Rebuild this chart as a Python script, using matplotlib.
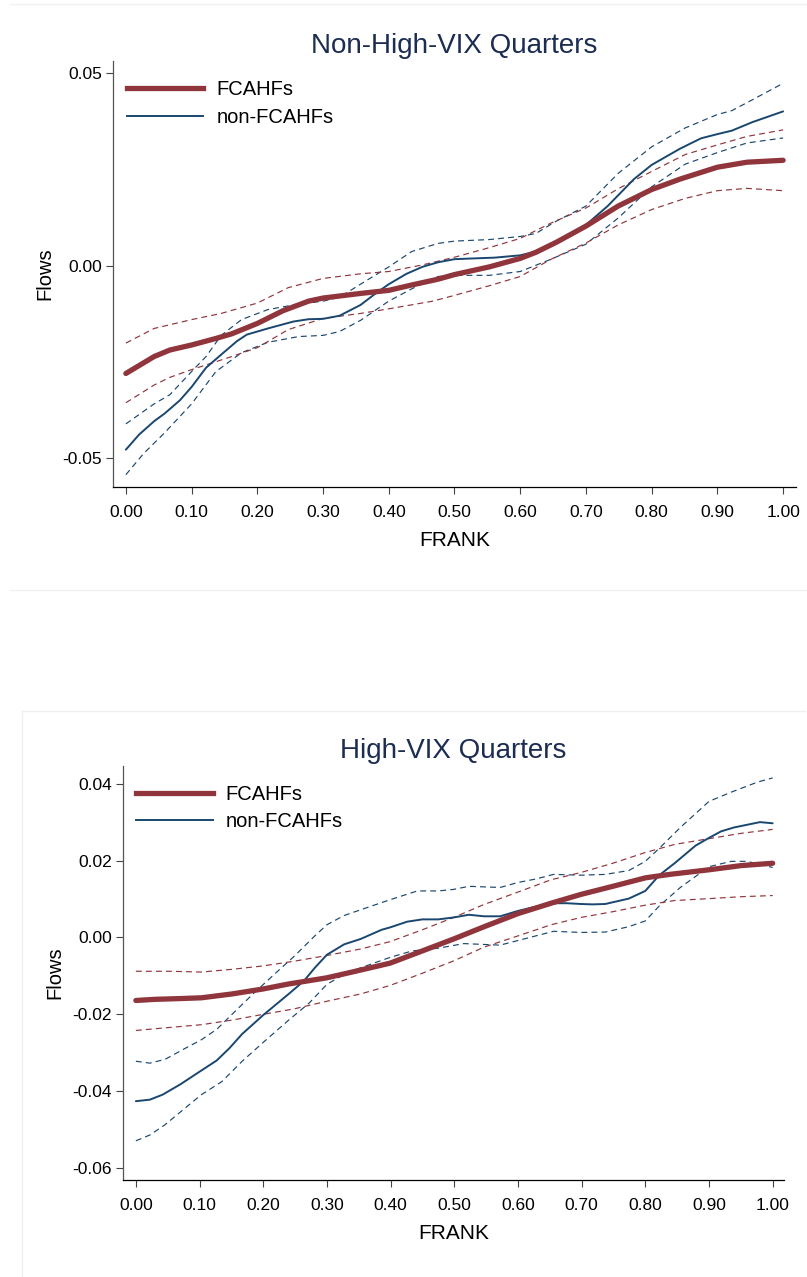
import matplotlib
matplotlib.use("Agg")
import matplotlib.pyplot as plt
from matplotlib.lines import Line2D

# ---------------- data: top panel (Non-High-VIX Quarters) ----------------
top_fc_x = [0, .043, .067, .100, .137, .161, .200, .239, .278, .300, .357, .400, .435, .475,
            .500, .553, .600, .624, .655, .700, .749, .800, .843, .900, .945, 1.0]
top_fc_y = [-.0280, -.0236, -.0219, -.0206, -.0189, -.0177, -.0150, -.0117, -.0092, -.0084,
            -.0072, -.0064, -.0050, -.0035, -.0023, -.0003, .0019, .0035, .0061, .0103,
            .0155, .0198, .0225, .0256, .0269, .0274]

top_fc_hi_x = [0, .043, .100, .145, .200, .247, .300, .357, .400, .451, .500, .553, .600,
               .647, .700, .749, .800, .851, .900, .945, 1.0]
top_fc_hi_y = [-.0201, -.0163, -.0140, -.0124, -.0097, -.0057, -.0033, -.0021, -.0015, .0002,
               .0022, .0047, .0071, .0111, .0150, .0200, .0245, .0289, .0314, .0336, .0353]

top_fc_lo_x = [0, .043, .067, .100, .161, .200, .247, .300, .357, .400, .467, .500, .553,
               .600, .647, .700, .749, .800, .851, .900, .945, 1.0]
top_fc_lo_y = [-.0356, -.0310, -.0290, -.0270, -.0236, -.0213, -.0166, -.0137, -.0124, -.0112,
               -.0092, -.0077, -.0052, -.0028, .0017, .0059, .0106, .0146, .0175, .0195,
               .0201, .0195]

top_nf_x = [0, .020, .043, .059, .082, .100, .122, .145, .169, .184, .216, .255, .278, .300,
            .325, .357, .380, .400, .427, .451, .475, .500, .529, .561, .600, .624, .655,
            .700, .733, .773, .800, .843, .875, .900, .922, .953, 1.0]
top_nf_y = [-.0478, -.0439, -.0404, -.0384, -.0350, -.0315, -.0265, -.0231, -.0196, -.0179,
            -.0163, -.0145, -.0139, -.0138, -.0130, -.0102, -.0072, -.0048, -.0021, -.0003,
            .0009, .0017, .0019, .0021, .0027, .0037, .0061, .0106, .0155, .0225, .0262,
            .0304, .0331, .0342, .0351, .0373, .0401]

top_nf_hi_x = [0, .043, .067, .100, .122, .145, .176, .216, .255, .300, .325, .357, .400,
               .435, .475, .500, .553, .600, .624, .655, .700, .749, .800, .851, .900, .922,
               .953, 1.0]
top_nf_hi_y = [-.0411, -.0359, -.0335, -.0275, -.0236, -.0181, -.0140, -.0114, -.0102, -.0092,
               -.0082, -.0048, -.0003, .0037, .0058, .0064, .0068, .0076, .0084, .0116, .0155,
               .0240, .0309, .0358, .0393, .0403, .0431, .0474]

top_nf_lo_x = [0, .027, .059, .100, .137, .176, .216, .263, .300, .325, .357, .400, .435,
               .475, .500, .553, .600, .647, .700, .749, .800, .851, .900, .945, 1.0]
top_nf_lo_y = [-.0543, -.0488, -.0434, -.0359, -.0275, -.0226, -.0199, -.0184, -.0181, -.0171,
               -.0142, -.0092, -.0060, -.0028, -.0025, -.0025, -.0015, .0017, .0056, .0124,
               .0205, .0264, .0294, .0319, .0332]

# ---------------- data: bottom panel (High-VIX Quarters) ----------------
bot_fc_x = [0, .030, .070, .103, .151, .200, .240, .300, .337, .399, .450, .499, .547, .600,
            .652, .699, .749, .800, .838, .900, .951, 1.0]
bot_fc_y = [-.0164, -.0161, -.0159, -.0157, -.0147, -.0134, -.0121, -.0105, -.0091, -.0067,
            -.0035, -.0004, .0028, .0062, .0089, .0112, .0133, .0155, .0164, .0176, .0187,
            .0193]

bot_fc_hi_x = [0, .054, .103, .151, .200, .248, .300, .353, .399, .450, .499, .547, .600,
               .652, .699, .749, .800, .846, .900, .951, 1.0]
bot_fc_hi_y = [-.0088, -.0088, -.0090, -.0083, -.0074, -.0062, -.0047, -.0030, -.0011, .0020,
               .0052, .0086, .0118, .0150, .0169, .0193, .0221, .0242, .0257, .0271, .0281]

bot_fc_lo_x = bot_fc_hi_x
bot_fc_lo_y = [-.0242, -.0234, -.0227, -.0215, -.0200, -.0186, -.0166, -.0147, -.0125, -.0093,
               -.0061, -.0025, .0004, .0033, .0052, .0067, .0084, .0096, .0101, .0106, .0109]

bot_nf_x = [0, .022, .042, .070, .103, .127, .147, .167, .200, .240, .264, .281, .300, .327,
            .353, .386, .399, .426, .450, .475, .499, .523, .547, .572, .600, .628, .652,
            .677, .699, .717, .737, .774, .800, .822, .846, .879, .900, .919, .939, .980, 1.0]
bot_nf_y = [-.0426, -.0422, -.0409, -.0382, -.0346, -.0320, -.0288, -.0251, -.0202, -.0147,
            -.0113, -.0079, -.0045, -.0018, -.0004, .0020, .0026, .0041, .0047, .0047, .0052,
            .0059, .0055, .0055, .0069, .0080, .0089, .0089, .0087, .0086, .0087, .0101,
            .0121, .0162, .0193, .0239, .0259, .0276, .0286, .0300, .0297]

bot_nf_hi_x = [0, .022, .046, .078, .103, .127, .151, .184, .216, .248, .281, .300, .327,
               .353, .399, .442, .475, .499, .523, .572, .600, .628, .656, .699, .737, .774,
               .800, .822, .855, .900, .935, .976, 1.0]
bot_nf_hi_y = [-.0322, -.0327, -.0317, -.0288, -.0266, -.0239, -.0200, -.0147, -.0098, -.0050,
               .0004, .0033, .0057, .0072, .0098, .0121, .0121, .0125, .0133, .0130, .0143,
               .0152, .0164, .0162, .0164, .0174, .0198, .0232, .0286, .0354, .0378, .0404,
               .0415]

bot_nf_lo_x = [0, .022, .046, .078, .103, .135, .167, .200, .240, .272, .300, .327, .353,
               .399, .434, .475, .515, .572, .600, .628, .656, .699, .737, .774, .800, .822,
               .855, .900, .935, .960, 1.0]
bot_nf_lo_y = [-.0529, -.0514, -.0487, -.0443, -.0409, -.0375, -.0322, -.0273, -.0215, -.0171,
               -.0122, -.0096, -.0079, -.0052, -.0035, -.0028, -.0016, -.0020, -.0008, .0004,
               .0016, .0013, .0014, .0028, .0043, .0082, .0130, .0184, .0198, .0198, .0182]

x_ticks = [0.0, 0.1, 0.2, 0.3, 0.4, 0.5, 0.6, 0.7, 0.8, 0.9, 1.0]
x_ticklabels = ["0.00", "0.10", "0.20", "0.30", "0.40", "0.50", "0.60", "0.70", "0.80", "0.90", "1.00"]
top_yticks = [-0.05, 0.0, 0.05]
top_yticklabels = ["-0.05", "0.00", "0.05"]
bot_yticks = [-0.06, -0.04, -0.02, 0.0, 0.02, 0.04]
bot_yticklabels = ["-0.06", "-0.04", "-0.02", "0.00", "0.02", "0.04"]

series_names = ["FCAHFs", "non-FCAHFs"]
titles = ["Non-High-VIX Quarters", "High-VIX Quarters"]

# ---------------- style ----------------
RED = "#90353b"
BLUE = "#1a476f"
TITLE_C = "#1c2d52"
NARROW = ["Liberation Sans Narrow", "Liberation Sans", "DejaVu Sans"]
REG = ["Liberation Sans", "DejaVu Sans"]

W, H = 807, 1277
fig = plt.figure(figsize=(W / 100, H / 100), dpi=100)
fig.patch.set_facecolor("white")


def fr(l, t, r, b):
    return [l / W, 1 - b / H, (r - l) / W, (b - t) / H]


def panel(ax, data, xlim, ylim, yticks, yticklabels, title):
    (fx, fy, fhx, fhy, flx, fly, nx, ny, nhx, nhy, nlx, nly) = data
    dkw = dict(lw=0.85, dashes=(5, 3.5))
    ax.plot(nhx, nhy, color=BLUE, **dkw)
    ax.plot(nlx, nly, color=BLUE, **dkw)
    ax.plot(fhx, fhy, color=RED, **dkw)
    ax.plot(flx, fly, color=RED, **dkw)
    ax.plot(nx, ny, color=BLUE, lw=1.4, solid_capstyle="round")
    ax.plot(fx, fy, color=RED, lw=3.8, solid_capstyle="round")
    ax.set_xlim(*xlim)
    ax.set_ylim(*ylim)
    ax.set_xticks(x_ticks)
    ax.set_xticklabels(x_ticklabels, family=NARROW, fontsize=12.5)
    ax.set_yticks(yticks)
    ax.set_yticklabels(yticklabels, family=NARROW, fontsize=12.5)
    ax.tick_params(axis="x", direction="out", length=5, width=0.8, color="#444444",
                   pad=8, labelcolor="black")
    ax.tick_params(axis="y", direction="out", length=5, width=0.8, color="#444444",
                   pad=3, labelcolor="black")
    for s in ("top", "right"):
        ax.spines[s].set_visible(False)
    ax.spines["left"].set_color("#555555")
    ax.spines["bottom"].set_color("black")
    ax.spines["left"].set_linewidth(0.9)
    ax.spines["bottom"].set_linewidth(0.9)
    ax.set_xlabel("FRANK", family=NARROW, fontsize=15, labelpad=8)
    ax.set_ylabel("Flows", family=REG, fontsize=14.5, labelpad=6)
    ax.set_title(title, family=REG, fontsize=20, color=TITLE_C, pad=6)
    handles = [Line2D([], [], color=RED, lw=3.8), Line2D([], [], color=BLUE, lw=1.4)]
    ax.legend(handles, series_names, loc="upper left", bbox_to_anchor=(0.02, 0.955),
              frameon=False, prop={"family": REG, "size": 14.5}, handlelength=3.8,
              handletextpad=0.65, labelspacing=0.42, borderpad=0, borderaxespad=0)


ax1 = fig.add_axes(fr(113, 61, 796, 487))
panel(ax1, (top_fc_x, top_fc_y, top_fc_hi_x, top_fc_hi_y, top_fc_lo_x, top_fc_lo_y,
            top_nf_x, top_nf_y, top_nf_hi_x, top_nf_hi_y, top_nf_lo_x, top_nf_lo_y),
      (-0.0196, 1.0196), (-0.0575, 0.0532), top_yticks, top_yticklabels, titles[0])

ax2 = fig.add_axes(fr(123, 766, 784, 1180))
panel(ax2, (bot_fc_x, bot_fc_y, bot_fc_hi_x, bot_fc_hi_y, bot_fc_lo_x, bot_fc_lo_y,
            bot_nf_x, bot_nf_y, bot_nf_hi_x, bot_nf_hi_y, bot_nf_lo_x, bot_nf_lo_y),
      (-0.0202, 1.0178), (-0.0631, 0.0446), bot_yticks, bot_yticklabels, titles[1])

# faint panel frame lines
lc = "#eef0f2"
fig.add_artist(Line2D([10 / W, 1], [1 - 4 / H, 1 - 4 / H], color=lc, lw=1))
fig.add_artist(Line2D([10 / W, 1], [1 - 590 / H, 1 - 590 / H], color=lc, lw=1))
fig.add_artist(Line2D([22 / W, 805 / W], [1 - 711 / H, 1 - 711 / H], color=lc, lw=1))
fig.add_artist(Line2D([22 / W, 22 / W], [1 - 711 / H, 0], color=lc, lw=1))

fig.savefig("out.png", dpi=100, facecolor="white")
